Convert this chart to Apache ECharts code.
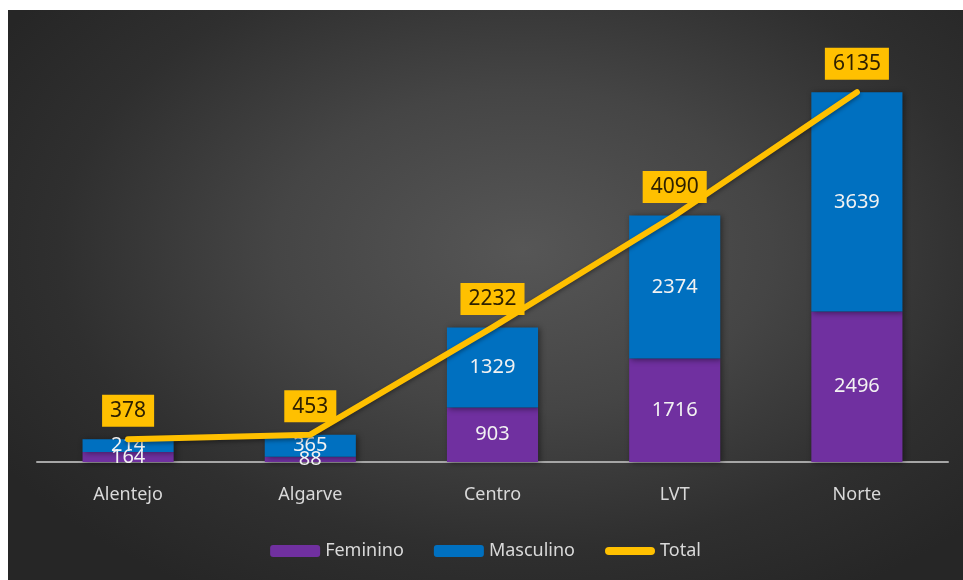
<!DOCTYPE html>
<html>
<head>
<meta charset="utf-8">
<script src="https://cdn.jsdelivr.net/npm/echarts@6/dist/echarts.min.js"></script>
<style>
  html, body { margin: 0; padding: 0; background: #ffffff; }
  #chart {
    position: absolute; left: 8px; top: 10px; width: 955px; height: 570px;
    background: radial-gradient(ellipse 65% 70% at 54% 42%, #565656 0%, #454545 40%, #2f2f2f 75%, #262626 100%);
  }
</style>
</head>
<body>
<div id="chart"></div>
<script>
  const categories = ['Alentejo', 'Algarve', 'Centro', 'LVT', 'Norte']
  const feminino = [164, 88, 903, 1716, 2496]
  const masculino = [214, 365, 1329, 2374, 3639]
  const total = [378, 453, 2232, 4090, 6135]

  const fontFamily = '"Noto Sans", "Open Sans", sans-serif'
  const barShadow = { shadowBlur: 6, shadowColor: 'rgba(0,0,0,0.45)', shadowOffsetX: 2, shadowOffsetY: 1 }

  const chart = echarts.init(document.getElementById('chart'), null, { renderer: 'canvas' })
  chart.setOption({
    backgroundColor: 'transparent',
    textStyle: { fontFamily: fontFamily },
    grid: { left: 29, right: 15, top: 30, bottom: 118 },
    legend: {
      top: 527,
      left: 'center',
      itemWidth: 50,
      itemHeight: 12,
      itemGap: 30,
      textStyle: { color: '#d9d9d9', fontSize: 18, fontFamily: fontFamily },
      data: [
        'Feminino',
        'Masculino',
        { name: 'Total', icon: 'path://M4,0 L46,0 A4,4 0 0 1 46,8 L4,8 A4,4 0 0 1 4,0 Z' }
      ]
    },
    xAxis: {
      type: 'category',
      data: categories,
      axisTick: { show: false },
      axisLine: { lineStyle: { color: '#a6a6a6', width: 2 } },
      axisLabel: { color: '#d9d9d9', fontSize: 18, margin: 24 }
    },
    yAxis: {
      type: 'value',
      min: 0,
      max: 7000,
      show: false,
      splitLine: { show: false }
    },
    series: [
      {
        name: 'Feminino',
        type: 'bar',
        stack: 'g',
        barWidth: '50%',
        data: feminino,
        itemStyle: Object.assign({ color: '#7030A0' }, barShadow),
        label: { show: true, position: 'inside', color: '#f2f2f2', fontSize: 20 }
      },
      {
        name: 'Masculino',
        type: 'bar',
        stack: 'g',
        barWidth: '50%',
        data: masculino,
        itemStyle: Object.assign({ color: '#0070C0' }, barShadow),
        label: { show: true, position: 'inside', color: '#f2f2f2', fontSize: 20 }
      },
      {
        name: 'Total',
        type: 'line',
        data: total,
        symbol: 'circle',
        symbolSize: 1,
        showSymbol: true,
        z: 5,
        itemStyle: { color: '#FFC000' },
        lineStyle: { color: '#FFC000', width: 6, cap: 'round', join: 'round', shadowBlur: 4, shadowColor: 'rgba(0,0,0,0.4)', shadowOffsetY: 2 },
        label: {
          show: true,
          position: 'top',
          distance: 12,
          backgroundColor: '#FFC000',
          color: '#2e2000',
          fontSize: 21,
          padding: [6, 8, 5, 8]
        }
      }
    ]
  })
</script>
</body>
</html>
